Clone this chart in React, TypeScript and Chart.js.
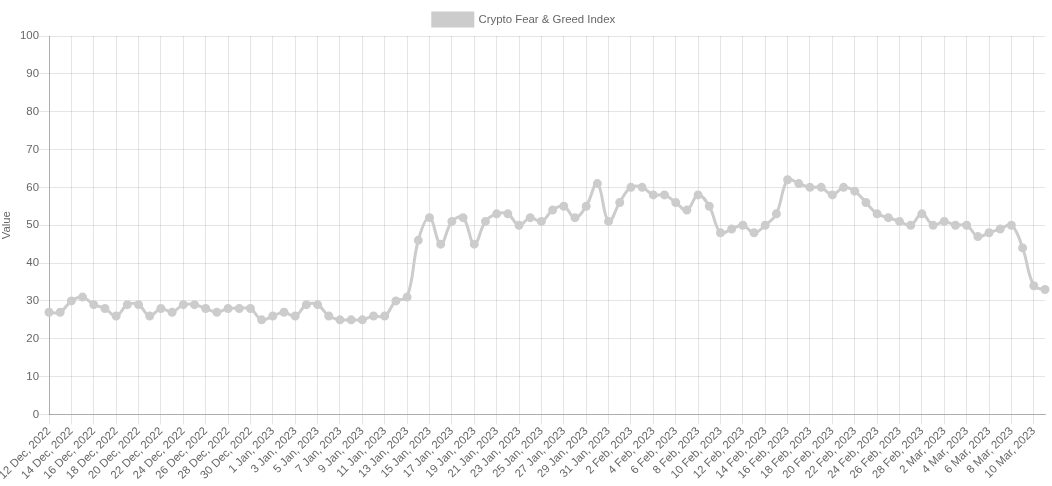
import React, { useEffect, useRef } from "react";
import { Chart, registerables } from "chart.js";

Chart.register(...registerables);

const dates: string[] = [
  "12 Dec, 2022", "13 Dec, 2022", "14 Dec, 2022", "15 Dec, 2022", "16 Dec, 2022", "17 Dec, 2022", "18 Dec, 2022", "19 Dec, 2022", "20 Dec, 2022", "21 Dec, 2022",
  "22 Dec, 2022", "23 Dec, 2022", "24 Dec, 2022", "25 Dec, 2022", "26 Dec, 2022", "27 Dec, 2022", "28 Dec, 2022", "29 Dec, 2022", "30 Dec, 2022", "31 Dec, 2022",
  "1 Jan, 2023", "2 Jan, 2023", "3 Jan, 2023", "4 Jan, 2023", "5 Jan, 2023", "6 Jan, 2023", "7 Jan, 2023", "8 Jan, 2023", "9 Jan, 2023", "10 Jan, 2023",
  "11 Jan, 2023", "12 Jan, 2023", "13 Jan, 2023", "14 Jan, 2023", "15 Jan, 2023", "16 Jan, 2023", "17 Jan, 2023", "18 Jan, 2023", "19 Jan, 2023", "20 Jan, 2023",
  "21 Jan, 2023", "22 Jan, 2023", "23 Jan, 2023", "24 Jan, 2023", "25 Jan, 2023", "26 Jan, 2023", "27 Jan, 2023", "28 Jan, 2023", "29 Jan, 2023", "30 Jan, 2023",
  "31 Jan, 2023", "1 Feb, 2023", "2 Feb, 2023", "3 Feb, 2023", "4 Feb, 2023", "5 Feb, 2023", "6 Feb, 2023", "7 Feb, 2023", "8 Feb, 2023", "9 Feb, 2023",
  "10 Feb, 2023", "11 Feb, 2023", "12 Feb, 2023", "13 Feb, 2023", "14 Feb, 2023", "15 Feb, 2023", "16 Feb, 2023", "17 Feb, 2023", "18 Feb, 2023", "19 Feb, 2023",
  "20 Feb, 2023", "21 Feb, 2023", "22 Feb, 2023", "23 Feb, 2023", "24 Feb, 2023", "25 Feb, 2023", "26 Feb, 2023", "27 Feb, 2023", "28 Feb, 2023", "1 Mar, 2023",
  "2 Mar, 2023", "3 Mar, 2023", "4 Mar, 2023", "5 Mar, 2023", "6 Mar, 2023", "7 Mar, 2023", "8 Mar, 2023", "9 Mar, 2023", "10 Mar, 2023", "11 Mar, 2023",
];

const fearGreed: number[] = [
  27, 27, 30, 31, 29, 28, 26, 29, 29, 26,
  28, 27, 29, 29, 28, 27, 28, 28, 28, 25,
  26, 27, 26, 29, 29, 26, 25, 25, 25, 26,
  26, 30, 31, 46, 52, 45, 51, 52, 45, 51,
  53, 53, 50, 52, 51, 54, 55, 52, 55, 61,
  51, 56, 60, 60, 58, 58, 56, 54, 58, 55,
  48, 49, 50, 48, 50, 53, 62, 61, 60, 60,
  58, 60, 59, 56, 53, 52, 51, 50, 53, 50,
  51, 50, 50, 47, 48, 49, 50, 44, 34, 33,
];

const seriesLabel = "Crypto Fear & Greed Index";
const yTitle = "Value";

const FONT = 11.4;

export default function App() {
  const ref = useRef<HTMLCanvasElement | null>(null);
  useEffect(() => {
    document.body.style.margin = "0";
    const ctx = ref.current!;
    Chart.defaults.font.family = "'Liberation Sans', Arial, Helvetica, sans-serif";
    Chart.defaults.font.size = FONT;
    Chart.defaults.color = "#666";
    const gridColor = "rgba(0,0,0,0.1)";
    const chart = new Chart(ctx, {
      type: "line",
      data: {
        labels: dates,
        datasets: [
          {
            label: seriesLabel,
            data: fearGreed,
            borderColor: "#cccccc",
            backgroundColor: "#cccccc",
            pointBackgroundColor: "#cccccc",
            pointBorderColor: "#cccccc",
            borderWidth: 3,
            pointRadius: 3,
            tension: 0.4,
            fill: false,
          },
        ],
      },
      options: {
        animation: false,
        responsive: false,
        maintainAspectRatio: false,
        layout: { padding: { right: 4, left: 0, top: 3, bottom: 4 } },
        plugins: {
          legend: {
            display: true,
            position: "top",
            labels: { boxWidth: 40, boxHeight: 13, color: "#666", font: { size: FONT } },
          },
          tooltip: { enabled: false },
        },
        scales: {
          x: {
            grid: {
              color: (c: any) => (c.index % 2 === 0 ? gridColor : "rgba(0,0,0,0)"),
              tickLength: 10,
            },
            border: { color: "rgba(0,0,0,0.25)" },
            ticks: {
              autoSkip: false,
              maxRotation: 45,
              minRotation: 45,
              padding: 0,
              color: "#666",
              font: { size: FONT },
              callback: (_v: any, i: number) => (i % 2 === 0 ? dates[i] : ""),
            },
            afterFit: (scale: any) => {
              scale.paddingRight = 3;
            },
          },
          y: {
            min: 0,
            max: 100,
            grid: { color: gridColor, tickLength: 10 },
            border: { color: "rgba(0,0,0,0.25)" },
            ticks: { stepSize: 10, padding: 0, color: "#666", font: { size: FONT } },
            title: { display: true, text: yTitle, color: "#666", font: { size: FONT }, padding: 0 },
            afterFit: (scale: any) => {
              scale.width = 49;
            },
          },
        },
      },
    });
    return () => chart.destroy();
  }, []);
  return <canvas ref={ref} width={1052} height={486} style={{ display: "block" }} />;
}
